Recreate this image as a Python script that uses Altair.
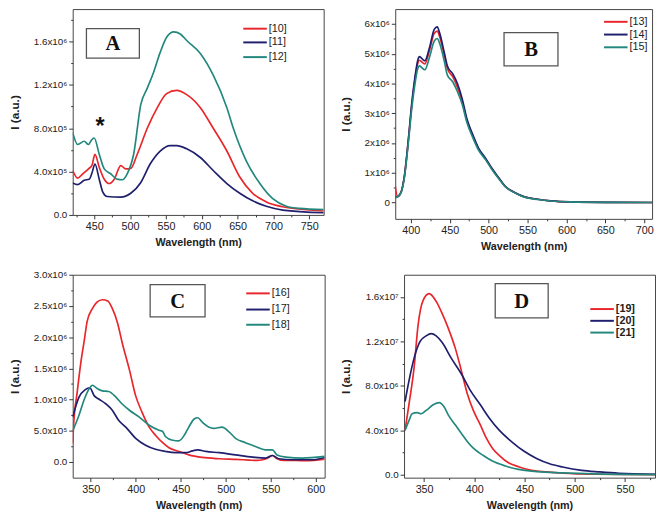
import json
import altair as alt
import pandas as pd

# ---------------- data ----------------
# Panel A
A_wl_10 = [420, 427, 434, 442, 447, 451, 457, 464, 471, 478, 487, 494, 501, 510, 524, 538, 551, 565, 579, 598, 616, 635, 653, 671, 690, 713, 736, 770]
A_i_10 = [4.1, 3.4, 3.8, 4.25, 4.6, 5.6, 4.4, 3.3, 2.9, 3.3, 4.55, 4.25, 4.3, 5.6, 8.0, 9.9, 11.2, 11.5, 11.1, 9.9, 8.0, 5.9, 3.5, 2.0, 1.2, 0.76, 0.55, 0.36]
A_wl_11 = [420, 427, 436, 443, 447, 451, 457, 462, 468, 487, 501, 515, 528, 542, 556, 565, 579, 598, 616, 635, 653, 671, 690, 713, 770]
A_i_11 = [2.95, 2.8, 3.2, 3.3, 3.9, 4.7, 3.3, 2.1, 1.7, 1.65, 2.0, 3.0, 4.7, 5.9, 6.4, 6.4, 6.1, 5.3, 4.1, 2.9, 2.0, 1.3, 0.8, 0.45, 0.2]
A_wl_12 = [420, 427, 436, 442, 446, 450, 457, 464, 473, 482, 489, 496, 505, 515, 524, 533, 542, 551, 561, 570, 579, 598, 616, 635, 644, 662, 681, 699, 718, 736, 770]
A_i_12 = [7.6, 6.5, 6.8, 6.5, 6.9, 7.1, 5.6, 4.25, 3.8, 3.3, 3.25, 3.8, 5.6, 10.2, 11.7, 13.2, 15.0, 16.4, 16.9, 16.7, 16.1, 14.9, 12.9, 9.9, 8.0, 5.0, 2.9, 1.5, 0.8, 0.6, 0.5]
A_names = ["[10]", "[11]", "[12]"]

# Panel B
B_wl = [380, 383, 388, 392, 397, 401, 405, 409, 411, 418, 424, 430, 434, 437, 443, 447, 454, 460, 466, 472, 479, 487, 496, 504, 513, 521, 534, 546, 563, 580, 605, 650, 710]
B_i_13 = [0.55, 0.2, 0.38, 0.92, 2.12, 3.2, 4.07, 4.68, 4.78, 4.66, 5.12, 5.68, 5.76, 5.58, 4.95, 4.5, 4.22, 3.87, 3.4, 2.76, 2.28, 1.8, 1.47, 1.14, 0.82, 0.55, 0.33, 0.19, 0.11, 0.055, 0.02, 0.005, 0.0]
B_i_14 = [0.17, 0.19, 0.39, 0.94, 2.16, 3.27, 4.15, 4.78, 4.9, 4.76, 5.2, 5.81, 5.9, 5.7, 5.04, 4.59, 4.32, 3.99, 3.49, 2.82, 2.32, 1.83, 1.49, 1.16, 0.83, 0.55, 0.33, 0.19, 0.11, 0.055, 0.02, 0.005, 0.0]
B_i_15 = [0.17, 0.19, 0.37, 0.88, 2.05, 3.1, 3.92, 4.5, 4.59, 4.46, 4.88, 5.42, 5.51, 5.35, 4.75, 4.28, 4.05, 3.72, 3.3, 2.7, 2.22, 1.76, 1.44, 1.12, 0.8, 0.54, 0.32, 0.18, 0.1, 0.05, 0.02, 0.005, 0.0]
B_names = ["[13]", "[14]", "[15]"]

# Panel C
C_wl_16 = [330, 331, 335, 339, 343, 346, 352, 357, 363, 369, 374, 380, 385, 393, 400, 407, 415, 422, 430, 437, 448, 459, 474, 493, 511, 526, 535, 541, 548, 552, 556, 561, 574, 589, 610]
C_i_16 = [3.0, 5.9, 11.2, 15.9, 19.6, 22.5, 24.6, 25.6, 26.0, 25.8, 24.6, 22.2, 19.1, 14.8, 10.6, 8.0, 5.6, 4.3, 3.1, 2.3, 1.7, 1.15, 0.74, 0.53, 0.42, 0.32, 0.26, 0.37, 0.74, 1.05, 0.63, 0.32, 0.26, 0.21, 0.47]
C_wl_17 = [330, 337, 344, 349, 354, 359, 367, 374, 381, 389, 400, 411, 422, 433, 444, 456, 463, 469, 478, 493, 511, 530, 544, 552, 559, 574, 596, 610]
C_i_17 = [7.2, 10.4, 11.6, 11.9, 10.6, 10.1, 9.3, 8.3, 6.7, 5.6, 3.8, 2.7, 2.05, 1.7, 1.5, 1.5, 1.8, 1.95, 1.7, 1.5, 1.15, 0.79, 0.63, 1.05, 0.53, 0.37, 0.37, 0.74]
C_wl_18 = [330, 337, 343, 349, 352, 357, 363, 370, 378, 385, 393, 404, 415, 426, 430, 433, 441, 448, 454, 459, 465, 469, 474, 481, 487, 496, 504, 511, 522, 533, 544, 552, 557, 567, 585, 610]
C_i_18 = [5.0, 7.5, 10.1, 11.9, 12.3, 11.8, 11.4, 11.3, 10.4, 9.3, 8.3, 7.2, 5.9, 5.1, 4.9, 4.1, 3.5, 3.4, 4.3, 5.6, 6.9, 7.1, 6.4, 5.6, 5.4, 5.6, 4.8, 3.8, 3.1, 2.5, 1.95, 1.95, 1.15, 0.79, 0.63, 0.9]
C_names = ["[16]", "[17]", "[18]"]

# Panel D
D_wl_19 = [331, 335, 340, 344, 349, 355, 362, 368, 374, 381, 387, 393, 399, 406, 412, 418, 425, 434, 444, 456, 472, 488, 519, 580]
D_i_19 = [4.0, 6.4, 9.65, 13.5, 15.7, 16.3, 15.6, 14.5, 13.2, 11.4, 9.4, 7.3, 5.8, 4.5, 3.3, 2.4, 1.74, 1.09, 0.74, 0.44, 0.27, 0.15, 0.06, 0.03]
D_wl_20 = [331, 335, 340, 346, 352, 357, 362, 368, 377, 387, 396, 406, 415, 425, 437, 450, 462, 475, 488, 507, 525, 544, 580]
D_i_20 = [6.6, 8.5, 10.5, 12.0, 12.5, 12.7, 12.5, 11.9, 10.5, 9.1, 7.6, 6.3, 5.1, 4.0, 3.0, 2.1, 1.48, 1.0, 0.71, 0.41, 0.27, 0.15, 0.06]
D_wl_21 = [331, 335, 338, 343, 347, 352, 359, 365, 370, 374, 381, 387, 393, 399, 409, 418, 431, 444, 462, 488, 519, 580]
D_i_21 = [4.0, 4.9, 5.5, 5.6, 5.5, 5.8, 6.3, 6.5, 6.1, 5.4, 4.5, 3.75, 3.0, 2.4, 1.74, 1.24, 0.8, 0.5, 0.3, 0.18, 0.09, 0.03]
D_names = ["[19]", "[20]", "[21]"]

# Axis tick values and labels
A_x_major = [450, 500, 550, 600, 650, 700, 750]
A_x_labels = ["450", "500", "550", "600", "650", "700", "750"]
A_y_major = [0, 400000, 800000, 1200000, 1600000]
A_y_labels = ["0.0", "4.0x10⁵", "8.0x10⁵", "1.2x10⁶", "1.6x10⁶"]
B_x_major = [400, 450, 500, 550, 600, 650, 700]
B_x_labels = ["400", "450", "500", "550", "600", "650", "700"]
B_y_major = [0, 1000000, 2000000, 3000000, 4000000, 5000000, 6000000]
B_y_labels = ["0", "1x10⁶", "2x10⁶", "3x10⁶", "4x10⁶", "5x10⁶", "6x10⁶"]
C_x_major = [350, 400, 450, 500, 550, 600]
C_x_labels = ["350", "400", "450", "500", "550", "600"]
C_y_major = [0, 500000, 1000000, 1500000, 2000000, 2500000, 3000000]
C_y_labels = ["0.0", "5.0x10⁵", "1.0x10⁶", "1.5x10⁶", "2.0x10⁶", "2.5x10⁶", "3.0x10⁶"]
D_x_major = [350, 400, 450, 500, 550]
D_x_labels = ["350", "400", "450", "500", "550"]
D_y_major = [0, 4000000, 8000000, 12000000, 16000000]
D_y_labels = ["0.0", "4.0x10⁶", "8.0x10⁶", "1.2x10⁷", "1.6x10⁷"]

COLORS = ["#e8262b", "#1f1f6e", "#22887d"]
FONT = "Liberation Sans"


def frame(names, wls, vals, mult):
    rows = []
    for n, w, v in zip(names, wls, vals):
        for a, b in zip(w, v):
            rows.append({"s": n, "wl": a, "I": b * mult})
    return pd.DataFrame(rows)


def label_expr(vals, labels):
    expr = "''"
    for v, l in reversed(list(zip(vals, labels))):
        expr = f"datum.value == {v} ? '{l}' : " + expr
    return expr


def axis(major, labels, minor, title, lab_size, title_size, orient):
    allv = sorted(set(major) | set(minor))
    return alt.Axis(
        values=allv,
        labelExpr=label_expr(major, labels),
        title=title,
        grid=False,
        domain=False,
        ticks=True,
        tickColor="#333",
        tickSize={"condition": {"test": f"indexof({json.dumps(major)}, datum.value) >= 0", "value": 4}, "value": 2},
        labelFont=FONT,
        labelFontSize=lab_size,
        labelColor="#222",
        labelPadding=2,
        labelFlush=False,
        labelOverlap=False,
        titleFont=FONT,
        titleFontSize=title_size,
        titleFontWeight="bold",
        titleColor="#222",
        titlePadding=12 if orient == "y" else 5,
    )


def legend_layers(names, x0, y0, dys, bold):
    """Line-sample legend drawn inside the plot (x0: line start, y0: first row, dys: row offsets)."""
    out = []
    for name, col, dy in zip(names, COLORS, dys):
        d = pd.DataFrame({"t": [name]})
        out.append(
            alt.Chart(d).mark_rule(strokeWidth=2, color=col).encode(
                x=alt.value(x0), x2=alt.value(x0 + 24), y=alt.value(y0 + dy)
            )
        )
        out.append(
            alt.Chart(d).mark_text(
                font=FONT, fontSize=11, fontWeight="bold" if bold else "normal",
                color="#222", align="left", baseline="middle",
            ).encode(x=alt.value(x0 + 26), y=alt.value(y0 + dy), text="t:N")
        )
    return out


def panel(df, names, xdom, ydom, xax, yax, w, h, letter, box, leg, legbold=False, extra=None):
    lines = alt.Chart(df).mark_line(strokeWidth=1.7, interpolate="monotone", clip=True).encode(
        x=alt.X("wl:Q", scale=alt.Scale(domain=xdom, nice=False, zero=False), axis=xax),
        y=alt.Y("I:Q", scale=alt.Scale(domain=ydom, nice=False, zero=False), axis=yax),
        color=alt.Color("s:N", scale=alt.Scale(domain=names, range=COLORS), legend=None),
        detail="s:N",
        order=alt.Order("wl:Q"),
    )
    lab = pd.DataFrame({"t": [letter]})
    rect = alt.Chart(lab).mark_rect(fill="white", stroke="#555", strokeWidth=1.3).encode(
        x=alt.value(box[0]), x2=alt.value(box[1]), y=alt.value(box[2]), y2=alt.value(box[3])
    )
    txt = alt.Chart(lab).mark_text(
        font="Liberation Serif", fontSize=21, fontWeight="bold", color="#111", baseline="middle", align="center"
    ).encode(
        x=alt.value((box[0] + box[1]) / 2), y=alt.value((box[2] + box[3]) / 2 + 1), text="t:N"
    )
    layers = [lines, rect, txt] + legend_layers(names, leg[0], leg[1], leg[2], legbold)
    if extra is not None:
        layers.append(extra)
    return alt.layer(*layers).properties(width=w, height=h)


dfA = frame(A_names, [A_wl_10, A_wl_11, A_wl_12], [A_i_10, A_i_11, A_i_12], 1e5)
dfB = frame(B_names, [B_wl, B_wl, B_wl], [B_i_13, B_i_14, B_i_15], 1e6)
dfC = frame(C_names, [C_wl_16, C_wl_17, C_wl_18], [C_i_16, C_i_17, C_i_18], 1e5)
dfD = frame(D_names, [D_wl_19, D_wl_20, D_wl_21], [D_i_19, D_i_20, D_i_21], 1e6)

star = alt.Chart(pd.DataFrame({"t": ["*"]})).mark_text(
    font=FONT, fontSize=24, fontWeight="bold", color="#111", baseline="middle", align="center"
).encode(x=alt.value(28), y=alt.value(120), text="t:N")

XT = "Wavelength (nm)"
YT = "I (a.u.)"

pA = panel(
    dfA, A_names, [420, 770], [0, 1900000],
    axis(A_x_major, A_x_labels, list(range(425, 770, 25)), XT, 11, 11, "x"),
    axis(A_y_major, A_y_labels, list(range(0, 1800001, 200000)), YT, 10, 12, "y"),
    256, 210, "A", (14, 68, 20, 50), (174, 20, [0, 14, 29]), extra=star,
)
pB = panel(
    dfB, B_names, [380, 710], [-550000, 6500000],
    axis(B_x_major, B_x_labels, list(range(400, 710, 25)), XT, 11, 11, "x"),
    axis(B_y_major, B_y_labels, list(range(0, 6000001, 500000)), YT, 10, 12, "y"),
    262, 214, "B", (111, 166, 24, 58), (213, 13, [0, 13, 26]),
)
pC = panel(
    dfC, C_names, [330, 610], [-250000, 3000000],
    axis(C_x_major, C_x_labels, list(range(350, 610, 25)), XT, 11, 11, "x"),
    axis(C_y_major, C_y_labels, list(range(0, 3000001, 250000)), YT, 10, 12, "y"),
    257, 207, "C", (79, 135, 10, 43), (177, 19, [0, 16.5, 32]),
)
pD = panel(
    dfD, D_names, [330, 580], [-250000, 18000000],
    axis(D_x_major, D_x_labels, list(range(350, 580, 25)), XT, 11, 11, "x"),
    axis(D_y_major, D_y_labels, list(range(0, 16000001, 2000000)), YT, 10, 12, "y"),
    256, 207, "D", (93, 147, 9, 44), (190, 35, [0, 12, 24]), legbold=True,
)

row1 = alt.hconcat(pA, pB, spacing=14).resolve_scale(color="independent")
row2 = alt.hconcat(pC, pD, spacing=14).resolve_scale(color="independent")
chart = (
    alt.vconcat(row1, row2, spacing=17)
    .resolve_scale(color="independent")
    .properties(padding={"left": 0, "top": -5, "right": 0, "bottom": 0}, background="white")
    .configure_view(stroke="#444", strokeWidth=1)
)

chart.save("out.html", embed_options={"renderer": "svg", "actions": False})
